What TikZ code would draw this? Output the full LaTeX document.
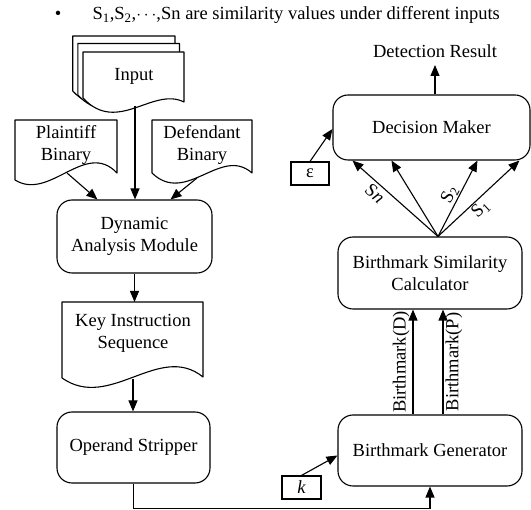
\documentclass[tikz,border=0pt]{standalone}
\usepackage{fontspec}
\setmainfont{Liberation Serif}
\usetikzlibrary{arrows.meta,calc}
% x1 y1 x2 ybl ybr a1 a2
\newcommand{\docshape}[7]{%
  \draw[docline] (#1,#2) -- (#3,#2) -- (#3,#5)
    .. controls ({#3-0.31*(#3-#1)},{#5-#6}) and ({#1+0.34*(#3-#1)},{#4+#7}) .. (#1,#4) -- cycle;}
\begin{document}
\begin{tikzpicture}[x=1pt,y=-1pt,line width=1.1pt,
  txt/.style={font=\fontsize{18.5}{22}\selectfont,align=center,inner sep=0pt},
  rbox/.style={draw,rounded corners=15pt,fill=white,txt},
  sbox/.style={draw,fill=white,txt},
  arr/.style={-{Triangle[length=11pt,width=9pt]}},
  docline/.style={draw,fill=white,line join=round},
  lbl/.style={font=\fontsize{18.5}{22}\selectfont,inner sep=2pt}]
\useasboundingbox (0,0) rectangle (531,510);

% top note
\node[txt,anchor=base] (bul) at (58,20) {\textbullet};
\node[txt,anchor=base west] (note) at (92,20) {S\textsubscript{1},S\textsubscript{2},$\cdots$,Sn are similarity values under different inputs};

% input stack
\docshape{72.7}{36}{175}{91}{95}{15.6}{37}
\docshape{77.8}{43.5}{179.5}{95}{99}{15.6}{37}
\docshape{83}{52}{184}{98}{102}{15.6}{37}
\node[txt,anchor=base] (input) at (134,81) {Input};
\coordinate (inbot) at (135,106);

% plaintiff / defendant
\docshape{15}{120}{117}{180}{173}{33.5}{21.6}
\node[txt,anchor=north] (plain) at (66,125) {Plaintiff\\Binary};
\coordinate (pbot) at (67,173);
\docshape{152}{120}{252}{173}{173}{27.6}{32.9}
\node[txt,anchor=north] (defe) at (202,125) {Defendant\\Binary};
\coordinate (dbot) at (197,178);

% dynamic analysis
\node[rbox,minimum width=155pt,minimum height=73pt] (DAM) at (134.5,236.5) {Dynamic\\Analysis Module};

% key instruction sequence
\docshape{62}{302}{203}{378}{377}{35.4}{33.6}
\node[txt,anchor=north] (key) at (133,314) {Key Instruction\\Sequence};
\coordinate (keytop) at (133,302);
\coordinate (keybot) at (133,379);

% operand stripper
\node[rbox,minimum width=153pt,minimum height=71pt] (OS) at (133.5,447.5) {Operand Stripper};

% right column
\node[rbox,minimum width=184pt,minimum height=71pt] (BG) at (430,450.5) {Birthmark Generator};
\node[rbox,minimum width=184pt,minimum height=72pt] (BSC) at (430,273) {Birthmark Similarity\\Calculator};
\node[rbox,minimum width=197pt,minimum height=65pt] (DM) at (431.5,127.5) {Decision Maker};
\node[txt,anchor=base,inner sep=0pt] (det) at (435,58) {Detection Result};
\node[sbox,minimum width=38pt,minimum height=23pt] (eps) at (310,173.5) {ε};
\node[sbox,minimum width=39pt,minimum height=23pt] (kk) at (301.5,487.5) {\textit{k}};

% connectors left
\draw[arr] (inbot) -- (inbot |- DAM.north);
\draw[arr] (pbot) -- ($(DAM.north west)+(41,0)$);
\draw[arr] (dbot) -- ($(DAM.north east)+(-42,0)$);
\draw[arr] (DAM.south) -- (DAM.south |- keytop);
\draw[arr] (keybot) -- (keybot |- OS.north);
\draw[arr] (OS.south) -- ++(0,25) -| (BG.south);

% right connectors
\draw[arr] (kk.north) -- ($(BG.west)+(0,5)$);
\draw[arr] ($(BG.north)+(-17,0)$) -- node[lbl,rotate=90,anchor=south,pos=0.5,inner sep=3pt]{Birthmark(D)} ($(BSC.south)+(-17,0)$);
\draw[arr] ($(BG.north)+(13,0)$) -- node[lbl,rotate=90,anchor=north,pos=0.5,inner sep=2pt]{Birthmark(P)} ($(BSC.south)+(13,0)$);

\coordinate (fan) at ($(BSC.north)+(8,0)$);
\draw[arr] (fan) -- node[lbl,sloped,below,pos=0.66,inner sep=3pt]{S\textit{n}} ($(DM.south west)+(20,0)$);
\draw[arr] (fan) -- ($(DM.south west)+(59,0)$);
\draw[arr] (fan) -- node[lbl,sloped,above,pos=0.5,inner sep=1pt]{S\textsubscript{2}} ($(DM.south west)+(145,0)$);
\draw[arr] (fan) -- node[lbl,sloped,below,pos=0.45,inner sep=1pt]{S\textsubscript{1}} ($(DM.south west)+(187,0)$);

\draw[arr] (eps.north) -- ($(DM.west)+(0,1.5)$);
\draw[arr] ($(DM.north)+(3.5,0)$) -- ($(det.base)+(0,7)$);
\end{tikzpicture}
\end{document}
